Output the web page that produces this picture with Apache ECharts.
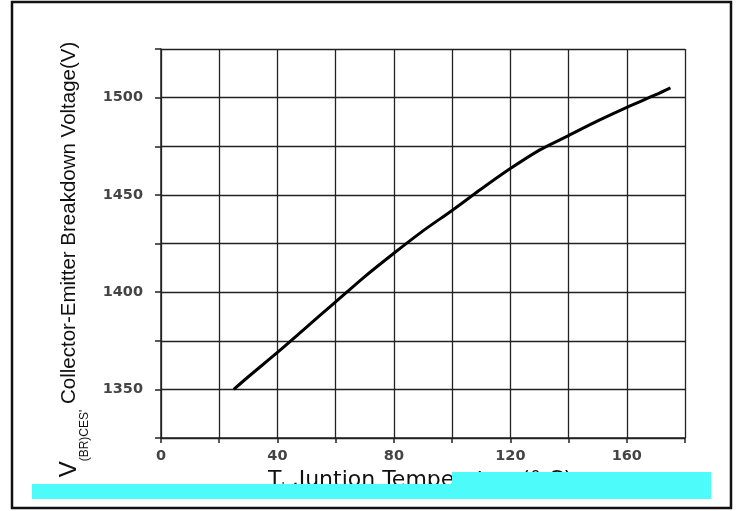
<!DOCTYPE html>
<html>
<head>
<meta charset="utf-8">
<script src="https://cdn.jsdelivr.net/npm/echarts@6/dist/echarts.min.js"></script>
<style>
html,body{margin:0;padding:0;background:#fff;}
#chart{width:737px;height:511px;}
</style>
</head>
<body>
<div id="chart"></div>
<script>
// Junction temperature (°C)
var temps = [25, 30, 40, 50, 60, 70, 80, 90, 100, 110, 120, 130, 140, 150, 160, 170, 175];
// Collector-Emitter breakdown voltage (V)
var voltages = [1350, 1356.5, 1369, 1382, 1395, 1408, 1420, 1431.5, 1442, 1453, 1463.5, 1473, 1480.5, 1488, 1495, 1501.5, 1505];
// tick labels shown on the axes
var xTickLabels = [0, 40, 80, 120, 160];
var yTickLabels = [1350, 1400, 1450, 1500];

var chart = echarts.init(document.getElementById('chart'), null, {renderer: 'canvas'});
var pts = temps.map(function (t, i) { return [t, voltages[i]]; });

var option = {
  backgroundColor: '#ffffff',
  animation: false,
  grid: {left: 161, right: 52, top: 49, bottom: 73, containLabel: false},
  xAxis: {
    type: 'value', min: 0, max: 180, interval: 20,
    axisLine: {show: true, lineStyle: {color: '#222', width: 1.5}},
    axisTick: {show: true, length: 5, lineStyle: {color: '#222', width: 1.5}},
    splitLine: {show: true, lineStyle: {color: '#222', width: 1.3}},
    axisLabel: {
      margin: 11, color: '#444', fontFamily: 'DejaVu Sans', fontWeight: 'bold', fontSize: 14.5,
      formatter: function (v) { return xTickLabels.indexOf(v) >= 0 ? String(v) : ''; }
    },
    name: '{m|T}{s|J}{m| ,Juntion Temperature(° C)}',
    nameLocation: 'middle', nameGap: 17,
    nameTextStyle: {
      padding: [0, 6, 0, 0],
      rich: {
        m: {fontFamily: 'DejaVu Sans', fontSize: 22, color: '#111', lineHeight: 26},
        s: {fontFamily: 'DejaVu Sans', fontSize: 11, color: '#111', verticalAlign: 'bottom'}
      }
    }
  },
  yAxis: {
    type: 'value', min: 1325, max: 1525, interval: 25,
    axisLine: {show: true, lineStyle: {color: '#222', width: 1.5}},
    axisTick: {show: true, length: 6, lineStyle: {color: '#222', width: 1.5}},
    splitLine: {show: true, lineStyle: {color: '#222', width: 1.3}},
    axisLabel: {
      margin: 18, color: '#444', fontFamily: 'DejaVu Sans', fontWeight: 'bold', fontSize: 14.5,
      formatter: function (v) { return yTickLabels.indexOf(v) >= 0 ? String(v) : ''; }
    },
    name: '{v|V}{s|(BR)CES\'}{m| Collector-Emitter Breakdown Voltage(V)}',
    nameLocation: 'middle', nameGap: 70,
    nameTextStyle: {
      padding: [0, 32, 0, 0],
      rich: {
        v: {fontFamily: 'Liberation Sans', fontSize: 24, color: '#111', lineHeight: 44},
        m: {fontFamily: 'Liberation Sans', fontSize: 20.5, color: '#111', lineHeight: 44},
        s: {fontFamily: 'Liberation Sans', fontSize: 12, color: '#111', verticalAlign: 'bottom'}
      }
    }
  },
  series: [{
    type: 'line', data: pts, smooth: 0.3, showSymbol: false,
    lineStyle: {color: '#000', width: 3}, z: 5
  }],
  graphic: [
    {type: 'rect', z: 100, shape: {x: 12, y: 2, width: 719, height: 506},
     style: {fill: 'none', stroke: '#111', lineWidth: 2.5}},
    {type: 'rect', z: 100, shape: {x: 32, y: 484, width: 679, height: 15},
     style: {fill: '#4DFBFB'}},
    {type: 'rect', z: 100, shape: {x: 452, y: 472, width: 259, height: 13},
     style: {fill: '#4DFBFB'}}
  ]
};
chart.setOption(option);
</script>
</body>
</html>
